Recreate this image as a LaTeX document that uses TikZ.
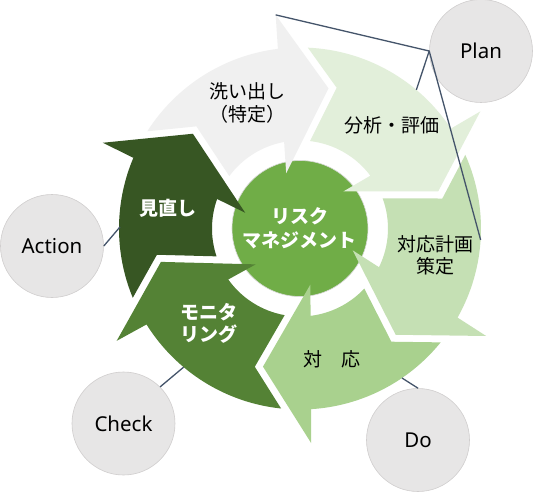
\documentclass[tikz,border=0pt]{standalone}
\usepackage{fontspec}
\setmainfont{Noto Sans CJK JP}
\newfontfamily\latf{Noto Sans}
\definecolor{cWash}{HTML}{F0F0F0}
\definecolor{cAnal}{HTML}{E2EFDA}
\definecolor{cPlan}{HTML}{C5E0B4}
\definecolor{cDo}{HTML}{A9D18E}
\definecolor{cMon}{HTML}{548235}
\definecolor{cRev}{HTML}{375623}
\definecolor{cCore}{HTML}{70AD47}
\definecolor{pdcaFill}{HTML}{E7E6E6}
\definecolor{pdcaLine}{HTML}{D0CECE}
\definecolor{linkC}{HTML}{44546A}
% #1 rotation of head, #2 tail shift (deg), #3 colour
\newcommand\cycarrow[3]{%
  \begin{scope}[rotate=#1]
    \fill[#3] ({48.51+#2}:181pt) arc[start angle={48.51+#2},end angle=-1.99,radius=181pt]
      -- (214.8,-9.38) -- (133.94,-50.08) -- (56.78,4.97) -- (87.97,2.14)
      arc[start angle=1.39,end angle={44.45+#2},radius=88pt]
      -- ({36.40+#2}:145.48pt) -- cycle;
  \end{scope}}
\begin{document}
\begin{tikzpicture}[x=1pt,y=1pt,
  lbl/.style={align=center,text=black,inner sep=0pt,font=\fontsize{19}{22.5}\selectfont},
  wlbl/.style={align=center,text=white,inner sep=0pt,font=\fontsize{19}{22.5}\selectfont\bfseries},
  pdca/.style={circle,fill=pdcaFill,draw=pdcaLine,line width=0.6pt,minimum size=103pt,inner sep=0pt,font=\latf\fontsize{20.5}{24}\selectfont},
  link/.style={draw=linkC,line width=1.3pt}]
\useasboundingbox (-300,-264.5) rectangle (233,228.5);
\fill[white] (-300,-264.5) rectangle (233,228.5);
% centre
\node[circle,fill=cCore,draw=white!85!black,line width=0.6pt,minimum size=136pt,inner sep=0pt,
      align=center,text=white,font=\fontsize{19}{24}\selectfont\bfseries] (core) at (0,0) {リスク\\マネジメント};
% arrows
\cycarrow{99}{0}{cWash}
\cycarrow{35.5}{3.5}{cAnal}
\cycarrow{-27.5}{3}{cPlan}
\cycarrow{-84.5}{-3}{cDo}
\cycarrow{-146}{1.5}{cMon}
\cycarrow{-201}{-5}{cRev}
\begin{scope}[rotate=99]\coordinate (pA) at (214.8,-9.38);\end{scope}
% labels
\node[lbl] (l1) at (-52,125.8) {洗い出し\\（特定）};
\node[lbl] (l2) at (92.5,103.5) {分析・評価};
\node[lbl] (l3) at (135,-27) {対応計画\\策定};
\node[lbl] (l4) at (32.5,-130.5) {対　応};
\node[wlbl] (l5) at (-91,-95) {モニタ\\リング};
\node[wlbl] (l6) at (-131.5,20) {見直し};
% PDCA circles
\node[pdca] (Plan) at (181,177.5) {Plan};
\node[pdca] (Do) at (118,-211.5) {Do};
\node[pdca] (Check) at (-176.5,-195) {Check};
\node[pdca] (Action) at (-248,-17.5) {Action};
% connector ends
\coordinate (pB) at (50:181pt);
\coordinate (pC) at (-3.6:181pt);
\coordinate (pD) at (-55.7:181pt);
\coordinate (pE) at (-130:181pt);
\coordinate (pF) at (179.5:180pt);
\draw[link] (pA) -- (Plan.west) -- (pC);
\draw[link] (Plan.west) -- (pB);
\draw[link] (pD) -- (Do.north);
\draw[link] (pE) -- (Check.45);
\draw[link] (pF) -- (Action.east);
\end{tikzpicture}
\end{document}
